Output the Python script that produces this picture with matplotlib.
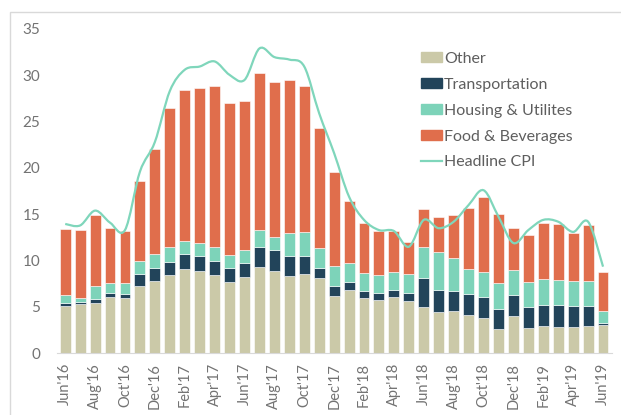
import numpy as np
import matplotlib
matplotlib.use("Agg")
from matplotlib import pyplot as plt
from matplotlib.path import Path
from matplotlib.patches import PathPatch, Rectangle, Patch
from matplotlib.lines import Line2D

months = ["Jun'16", "Jul'16", "Aug'16", "Sep'16", "Oct'16", "Nov'16", "Dec'16",
          "Jan'17", "Feb'17", "Mar'17", "Apr'17", "May'17", "Jun'17", "Jul'17",
          "Aug'17", "Sep'17", "Oct'17", "Nov'17", "Dec'17", "Jan'18", "Feb'18",
          "Mar'18", "Apr'18", "May'18", "Jun'18", "Jul'18", "Aug'18", "Sep'18",
          "Oct'18", "Nov'18", "Dec'18", "Jan'19", "Feb'19", "Mar'19", "Apr'19",
          "May'19", "Jun'19"]

other = [5.14, 5.36, 5.47, 6.05, 6.00, 7.30, 7.84, 8.42, 9.07, 8.90, 8.42, 7.70,
         8.24, 9.32, 8.92, 8.32, 8.53, 8.10, 6.22, 6.80, 6.00, 5.79, 6.10, 5.68,
         5.00, 4.49, 4.60, 4.17, 3.81, 2.59, 4.06, 2.73, 2.95, 2.88, 2.81, 2.95, 3.09]
transport = [0.26, 0.21, 0.36, 0.43, 0.44, 1.23, 1.34, 1.41, 1.69, 1.55, 1.58, 1.48,
             1.48, 2.19, 2.24, 2.19, 2.01, 1.11, 1.08, 0.94, 0.76, 0.72, 0.78, 0.87,
             3.16, 2.35, 2.16, 2.20, 2.24, 2.19, 2.20, 2.30, 2.27, 2.30, 2.30, 2.16, 0.22]
housing = [0.93, 0.37, 1.44, 1.11, 1.15, 1.47, 1.54, 1.68, 1.40, 1.43, 1.45, 1.40,
           1.44, 1.84, 1.43, 2.48, 2.53, 2.13, 2.16, 2.01, 1.95, 1.95, 1.93, 1.98,
           3.35, 4.07, 3.50, 2.73, 2.73, 2.78, 2.77, 2.71, 2.77, 2.74, 2.70, 2.70, 1.29]
food = [7.06, 7.37, 7.67, 5.94, 5.58, 8.60, 11.31, 14.91, 16.24, 16.74, 17.42, 16.45,
        16.09, 16.95, 16.68, 16.49, 15.80, 12.96, 10.09, 6.73, 5.33, 4.78, 4.43, 3.46,
        4.04, 3.81, 4.68, 6.59, 8.10, 7.48, 4.47, 5.04, 6.11, 6.04, 5.21, 6.05, 4.21]
headline = [13.96, 13.8, 15.4, 14.1, 13.3, 19.6, 22.8, 28.3, 30.6, 30.95, 31.5, 30.05,
            29.5, 32.9, 31.97, 31.7, 30.95, 25.9, 21.6, 16.9, 14.4, 13.3, 13.2, 11.5,
            14.4, 13.5, 14.2, 16.0, 17.6, 14.75, 11.9, 13.3, 14.4, 14.2, 13.1, 14.2, 9.35]

c_other = "#CBC9A8"
c_trans = "#22445A"
c_house = "#7DD3B9"
c_food = "#E06E4C"
c_line = "#7FD6BB"
c_text = "#737373"

plt.rcParams['font.family'] = ['Lato', 'DejaVu Sans']

fig = plt.figure(figsize=(6.21, 4.15), dpi=100)
ax = fig.add_axes([57 / 621, 61.7 / 415, 555 / 621, 324.3 / 415])

x = np.arange(len(months))
w = 0.73
b1 = np.array(other)
b2 = b1 + np.array(transport)
b3 = b2 + np.array(housing)
ax.bar(x, other, w, color=c_other, edgecolor="white", linewidth=0.4)
ax.bar(x, transport, w, bottom=b1, color=c_trans, edgecolor="white", linewidth=0.4)
ax.bar(x, housing, w, bottom=b2, color=c_house, edgecolor="white", linewidth=0.4)
ax.bar(x, food, w, bottom=b3, color=c_food, edgecolor="white", linewidth=0.4)

# smooth headline line (Catmull-Rom drawn as cubic bezier path)
pts = np.column_stack([x, headline]).astype(float)
verts = [pts[0]]
codes = [Path.MOVETO]
for i in range(len(pts) - 1):
    p0 = pts[i - 1] if i > 0 else pts[i]
    p1, p2 = pts[i], pts[i + 1]
    p3 = pts[i + 2] if i + 2 < len(pts) else pts[i + 1]
    verts += [p1 + (p2 - p0) / 6, p2 - (p3 - p1) / 6, p2]
    codes += [Path.CURVE4] * 3
ax.add_patch(PathPatch(Path(verts, codes), facecolor="none", edgecolor=c_line, lw=1.6))

ax.set_xlim(-0.55, 36.6)
ax.set_ylim(0, 35)
ax.set_yticks(range(0, 36, 5))
ax.set_xticks(x[::2])
ax.set_xticklabels(months[::2], rotation=90)
ax.tick_params(axis="y", length=0, pad=12, labelsize=11, labelcolor=c_text)
ax.tick_params(axis="x", length=0, pad=7, labelsize=10.5, labelcolor=c_text)
for s in ["top", "right", "left"]:
    ax.spines[s].set_visible(False)
ax.spines["bottom"].set_color("#d9d9d9")

handles = [Patch(color=c_other), Patch(color=c_trans), Patch(color=c_house),
           Patch(color=c_food), Line2D([], [], color=c_line, lw=1.6)]
labels = ["Other", "Transportation", "Housing & Utilites", "Food & Beverages", "Headline CPI"]
leg = ax.legend(handles, labels, loc="upper left", bbox_to_anchor=(0.641, 0.955),
                frameon=False, fontsize=11.5, handlelength=1.35, handleheight=0.65,
                handletextpad=0.1, labelspacing=0.75, borderpad=0)
for t in leg.get_texts():
    t.set_color("#5e5e5e")

fig.patches.append(Rectangle((10 / 621, -0.1), 1.0, 1.1 - 12 / 415, transform=fig.transFigure,
                             fill=False, edgecolor="#d9d9d9", lw=1))

fig.savefig("out.png", dpi=100)
